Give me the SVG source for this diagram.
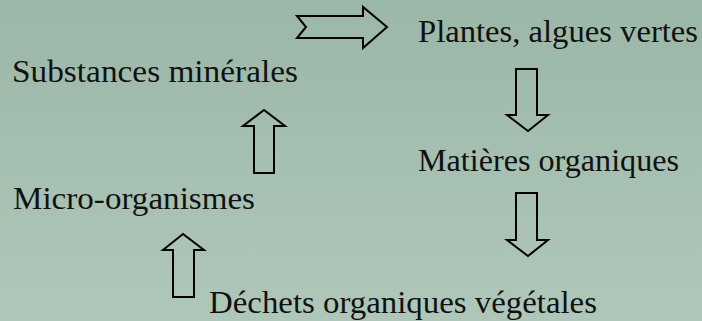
<svg xmlns="http://www.w3.org/2000/svg" width="702" height="321" viewBox="0 0 702 321">
<defs>
<linearGradient id="bg" x1="0" y1="0" x2="0" y2="1">
<stop offset="0" stop-color="#9bb7a7"/>
<stop offset="1" stop-color="#afc7b9"/>
</linearGradient>
<style>
.t{font-family:'Liberation Serif', 'Times New Roman', serif;font-size:31px;fill:#111;}
.a{fill:none;stroke:#000;stroke-width:2;stroke-linejoin:miter;}
</style>
</defs>
<rect width="702" height="321" fill="url(#bg)"/>
<g id="plantes"><text class="t" x="418" y="42" textLength="280" lengthAdjust="spacingAndGlyphs">Plantes, algues vertes</text></g>
<g id="substances"><text class="t" x="12" y="82" textLength="286" lengthAdjust="spacingAndGlyphs">Substances minérales</text></g>
<g id="matieres"><text class="t" x="418" y="171" textLength="261" lengthAdjust="spacingAndGlyphs">Matières organiques</text></g>
<g id="micro"><text class="t" x="13" y="209" textLength="242" lengthAdjust="spacingAndGlyphs">Micro-organismes</text></g>
<g id="dechets"><text class="t" x="209" y="313" textLength="388" lengthAdjust="spacingAndGlyphs">Déchets organiques végétales</text></g>
<g id="connectors">
<polygon class="a" points="297,16 363,16 363,7 387,27 363,48 363,38 297,38 306,27"/>
<polygon class="a" points="516,69 537,69 537,115 548,115 528,131 507,115 516,115"/>
<polygon class="a" points="516,193 537,193 537,240 548,240 528,256 507,240 516,240"/>
<polygon class="a" points="254,173 274,173 274,126 285,126 264,110 243,126 254,126"/>
<polygon class="a" points="173,297 194,297 194,250 204,250 183,234 163,250 173,250"/>
</g>
</svg>
